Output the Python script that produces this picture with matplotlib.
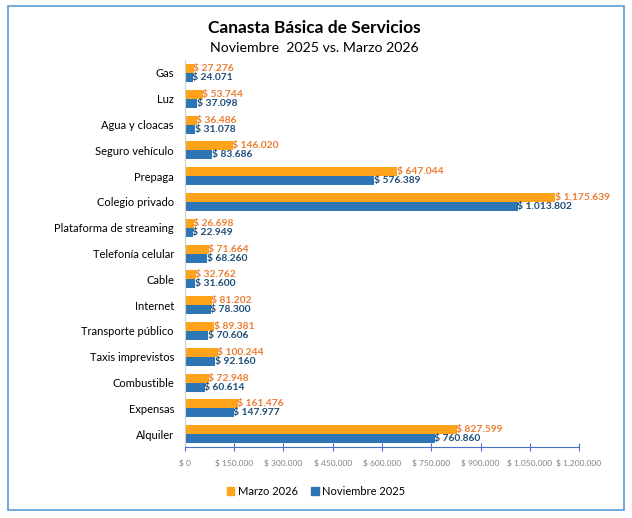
import matplotlib.pyplot as plt
import matplotlib.patches as mpatches
import numpy as np

plt.rcParams['font.family'] = ['Lato', 'DejaVu Sans']

categorias = ["Gas", "Luz", "Agua y cloacas", "Seguro vehículo", "Prepaga", "Colegio privado",
              "Plataforma de streaming", "Telefonía celular", "Cable", "Internet",
              "Transporte público", "Taxis imprevistos", "Combustible", "Expensas", "Alquiler"]
# longitudes de barra (la de Colegio privado es mas corta que su etiqueta)
marzo_2026 = [27276, 53744, 36486, 146020, 647044, 1128000, 26698, 71664, 32762, 81202,
              89381, 100244, 72948, 161476, 827599]
noviembre_2025 = [24071, 37098, 31078, 83686, 576389, 1013802, 22949, 68260, 31600, 78300,
                  70606, 92160, 60614, 147977, 760860]
# etiquetas tal como aparecen
etiq_marzo = [27276, 53744, 36486, 146020, 647044, 1175639, 26698, 71664, 32762, 81202,
              89381, 100244, 72948, 161476, 827599]
etiq_noviembre = noviembre_2025
ticks_x = [0, 150000, 300000, 450000, 600000, 750000, 900000, 1050000, 1200000]

naranja = '#FFA31A'
azul = '#2E75B6'
texto_naranja = '#ED7D31'
texto_azul = '#1F4E79'


def pesos(v):
    return "$ " + f"{v:,}".replace(",", ".")


fig = plt.figure(figsize=(6.32, 5.18), dpi=100)
ax = fig.add_axes([0.2927, 0.137, 0.6235, 0.747])

y = np.arange(len(categorias))
h = 0.35
ax.barh(y - h / 2, marzo_2026, height=h, color=naranja)
ax.barh(y + h / 2, noviembre_2025, height=h, color=azul)

for i in range(len(categorias)):
    ax.text(marzo_2026[i] - 2000, y[i] - h / 2, pesos(etiq_marzo[i]), color=texto_naranja,
            fontsize=7.4, fontweight='bold', va='center', ha='left')
    ax.text(noviembre_2025[i] - 2000, y[i] + h / 2, pesos(etiq_noviembre[i]), color=texto_azul,
            fontsize=7.4, fontweight='bold', va='center', ha='left')

ax.set_ylim(len(categorias) - 0.5, -0.5)
ax.set_xlim(0, 1200000)
ax.set_yticks(y)
ax.set_yticklabels(categorias, fontsize=8)
ax.tick_params(axis='y', length=0, pad=8)
ax.set_xticks(ticks_x)
ax.set_xticklabels([pesos(t) for t in ticks_x], fontsize=6, color='#808080')
ax.tick_params(axis='x', direction='inout', length=6, color='#4472C4', pad=6)

for s in ['top', 'right']:
    ax.spines[s].set_visible(False)
ax.spines['left'].set_color('#D0D0D0')
ax.spines['bottom'].set_color('#4472C4')

fig.text(0.498, 0.945, "Canasta Básica de Servicios", ha='center', va='center',
         fontsize=12.5, fontweight='bold')
fig.text(0.498, 0.907, "Noviembre  2025 vs. Marzo 2026", ha='center', va='center', fontsize=10.2)

handles = [mpatches.Patch(color=naranja, label="Marzo 2026"),
           mpatches.Patch(color=azul, label="Noviembre 2025")]
fig.legend(handles=handles, loc='center', bbox_to_anchor=(0.5, 0.052), ncol=2, frameon=False,
           fontsize=8, handlelength=0.7, handleheight=0.7, handletextpad=0.3, columnspacing=1.2)

borde = mpatches.Rectangle((0.012, 0.016), 0.976, 0.973, transform=fig.transFigure,
                           fill=False, edgecolor='#5B9BD5', linewidth=1.2)
fig.patches.append(borde)

fig.savefig("out.png", dpi=100)
